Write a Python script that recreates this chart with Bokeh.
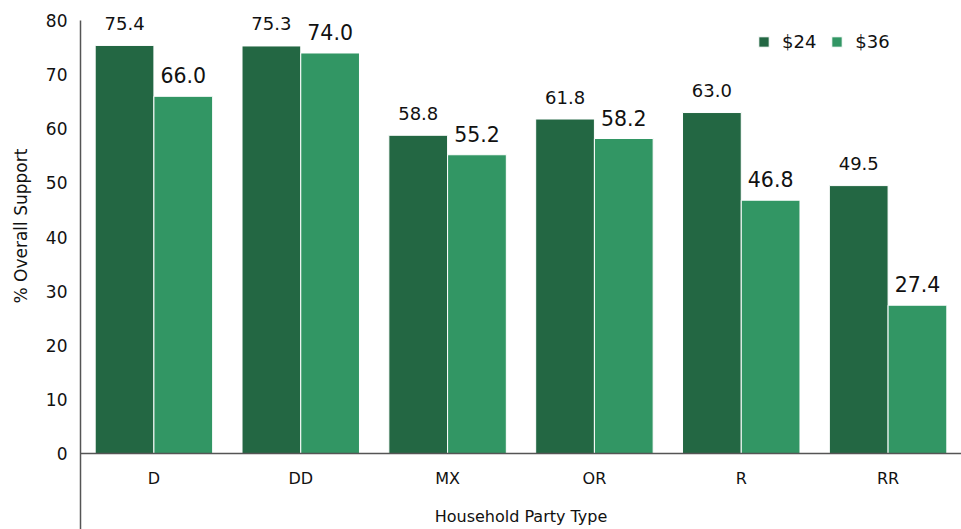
from bokeh.core.properties import value
from bokeh.embed import file_html
from bokeh.models import (ColumnDataSource, FactorRange, FixedTicker, Legend,
                          LegendItem, Range1d, Title)
from bokeh.plotting import figure
from bokeh.resources import INLINE
from bokeh.transform import dodge

# Overall support by household party type, at two price points
party_types = ["D", "DD", "MX", "OR", "R", "RR"]
support_24 = [75.4, 75.3, 58.8, 61.8, 63.0, 49.5]
support_36 = [66.0, 74.0, 55.2, 58.2, 46.8, 27.4]
series_names = ["$24", "$36"]
y_ticks = [0, 10, 20, 30, 40, 50, 60, 70, 80]

DARK = "#236743"
LIGHT = "#329664"
FONT = "DejaVu Sans"
TEXT = "#111111"
AXIS = "#555555"

# value range: a little headroom above 80 for the labels, and room below 0
# for the category labels and axis title inside the frame
Y_MIN, Y_MAX = -14.04, 83.7

src = ColumnDataSource(dict(
    party=party_types,
    s24=support_24,
    s36=support_36,
    l24=[f"{v:.1f}" for v in support_24],
    l36=[f"{v:.1f}" for v in support_36],
))

p = figure(
    width=961, height=529,
    x_range=FactorRange(*party_types, range_padding=0),
    y_range=Range1d(Y_MIN, Y_MAX),
    output_backend="svg", toolbar_location=None,
    min_border_left=80, min_border_right=0,
    min_border_top=0, min_border_bottom=0,
    outline_line_color=None, background_fill_color="white",
)

x24 = dodge("party", -0.2, range=p.x_range)
x36 = dodge("party", 0.2, range=p.x_range)

r24 = p.vbar(x=x24, top="s24", width=0.4, source=src,
             fill_color=DARK, line_color="white", line_width=1)
r36 = p.vbar(x=x36, top="s36", width=0.4, source=src,
             fill_color=LIGHT, line_color="white", line_width=1)

p.text(x=x24, y="s24", text="l24", source=src, text_align="center",
       text_baseline="alphabetic", y_offset=-22, text_font=value(FONT),
       text_font_size="18px", text_color=TEXT)
p.text(x=x36, y="s36", text="l36", source=src, text_align="center",
       text_baseline="alphabetic", y_offset=-21, text_font=value(FONT),
       text_font_size="20.5px", text_color=TEXT)

# axes
p.xgrid.visible = False
p.ygrid.visible = False

p.yaxis.ticker = FixedTicker(ticks=y_ticks)
p.yaxis.bounds = (Y_MIN, 80)
p.yaxis.major_tick_line_color = None
p.yaxis.minor_tick_line_color = None
p.yaxis.major_tick_out = 0
p.yaxis.major_tick_in = 0
p.yaxis.axis_line_color = AXIS
p.yaxis.axis_line_width = 1.5
p.yaxis.major_label_standoff = 13
p.yaxis.major_label_text_font = FONT
p.yaxis.major_label_text_font_size = "17px"
p.yaxis.major_label_text_color = TEXT

p.xaxis.fixed_location = 0
p.xaxis.major_tick_line_color = None
p.xaxis.minor_tick_line_color = None
p.xaxis.axis_line_color = AXIS
p.xaxis.axis_line_width = 1.5
p.xaxis.major_label_standoff = 9
p.xaxis.major_label_text_font = FONT
p.xaxis.major_label_text_font_size = "16px"
p.xaxis.major_label_text_color = TEXT
p.xaxis.axis_label = "Household Party Type"
p.xaxis.axis_label_standoff = 16
p.xaxis.axis_label_text_font = FONT
p.xaxis.axis_label_text_font_size = "16px"
p.xaxis.axis_label_text_font_style = "normal"
p.xaxis.axis_label_text_color = TEXT

# value-axis title, centred on the 0..80 span rather than on the whole frame
p.add_layout(Title(
    text="% Overall Support", align="left", offset=226, standoff=20,
    vertical_align="top",
    text_font=FONT, text_font_size="17px", text_font_style="normal",
    text_color=TEXT,
), "left")

legend = Legend(
    items=[LegendItem(label=series_names[0], renderers=[r24]),
           LegendItem(label=series_names[1], renderers=[r36])],
    orientation="horizontal", location=(677, 477),
    glyph_width=13, glyph_height=13, label_standoff=12, spacing=14,
    padding=0, margin=0, border_line_alpha=0, background_fill_alpha=0,
    label_text_font=FONT, label_text_font_size="18px", label_text_color=TEXT,
)
p.add_layout(legend)

open("out.html", "w").write(file_html(p, INLINE))
